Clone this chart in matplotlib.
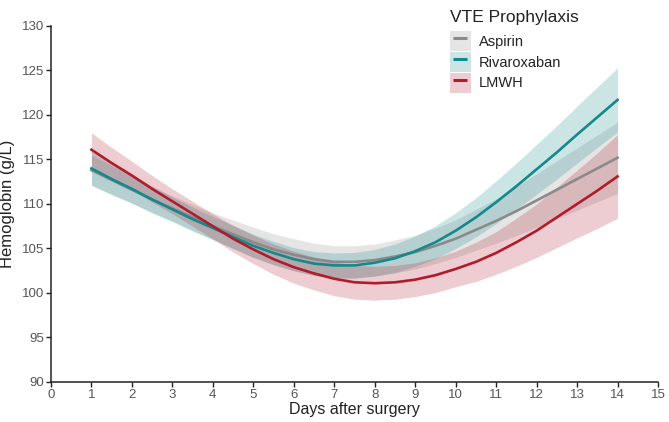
import numpy as np
import matplotlib
matplotlib.use("Agg")
import matplotlib.pyplot as plt
from matplotlib.patches import Patch
from matplotlib.lines import Line2D

plt.rcParams['font.family'] = ['Liberation Sans', 'DejaVu Sans']

# days after surgery (read every half day)
days = [1, 1.5, 2, 2.5, 3, 3.5, 4, 4.5, 5, 5.5, 6, 6.5, 7, 7.5, 8,
        8.5, 9, 9.5, 10, 10.5, 11, 11.5, 12, 12.5, 13, 13.5, 14]

# fitted haemoglobin and half width of the 95% CI band
aspirin = [113.8, 112.7, 111.6, 110.5, 109.5, 108.5, 107.5, 106.6, 105.7, 104.9, 104.3, 103.8, 103.5, 103.5,
           103.7, 104.1, 104.6, 105.3, 106.1, 107.1, 108.1, 109.2, 110.4, 111.6, 112.8, 114.0, 115.2]
aspirin_ci = [1.7, 1.6, 1.5, 1.45, 1.4, 1.45, 1.5, 1.6, 1.7, 1.75, 1.8, 1.8, 1.8, 1.8,
              1.8, 1.85, 1.9, 2.0, 2.1, 2.3, 2.5, 2.75, 3.0, 3.25, 3.5, 3.75, 4.0]

rivaroxaban = [114.0, 112.8, 111.7, 110.5, 109.4, 108.3, 107.3, 106.3, 105.3, 104.5, 103.8, 103.3, 103.1, 103.1,
               103.4, 103.9, 104.7, 105.7, 107.0, 108.5, 110.2, 112.0, 113.9, 115.8, 117.8, 119.75, 121.7]
rivaroxaban_ci = [1.9, 1.75, 1.6, 1.5, 1.4, 1.35, 1.3, 1.3, 1.3, 1.3, 1.3, 1.35, 1.4, 1.45,
                  1.5, 1.6, 1.7, 1.85, 2.0, 2.2, 2.4, 2.6, 2.8, 3.0, 3.2, 3.4, 3.6]

lmwh = [116.1, 114.6, 113.2, 111.7, 110.3, 108.9, 107.5, 106.1, 104.9, 103.8, 102.9, 102.2, 101.6, 101.2,
        101.1, 101.2, 101.5, 102.0, 102.7, 103.5, 104.5, 105.7, 107.0, 108.5, 110.0, 111.5, 113.1]
lmwh_ci = [1.9, 1.75, 1.6, 1.5, 1.4, 1.4, 1.4, 1.5, 1.6, 1.7, 1.8, 1.85, 1.9, 1.9,
           1.9, 1.9, 1.9, 1.95, 2.0, 2.2, 2.4, 2.7, 3.0, 3.4, 3.8, 4.25, 4.7]

groups = ['Aspirin', 'Rivaroxaban', 'LMWH']
line_colors = ['#8a8a8a', '#13898a', '#b01c2e']

fig = plt.figure(figsize=(6.69, 4.22), dpi=100)
ax = fig.add_axes([0.0762, 0.0948, 0.9074, 0.8436])

series = [(aspirin, aspirin_ci), (rivaroxaban, rivaroxaban_ci), (lmwh, lmwh_ci)]

for (mean, ci), c in zip(series, line_colors):
    mean = np.array(mean)
    ci = np.array(ci)
    ax.fill_between(days, mean - ci, mean + ci, color=c, alpha=0.22, linewidth=0)

handles = []
for (mean, ci), c in zip(series, line_colors):
    ax.plot(days, mean, color=c, lw=1.9)
    handles.append((Patch(facecolor=c, alpha=0.22, edgecolor='none'),
                    Line2D([], [], color=c, marker='_', markersize=10,
                           markeredgewidth=2.2, linestyle='none')))

ax.set_xlim(0, 15)
ax.set_ylim(90, 130)
ax.set_xticks(range(0, 16))
ax.set_yticks(range(90, 131, 5))
for s in ['top', 'right']:
    ax.spines[s].set_visible(False)
for s in ['left', 'bottom']:
    ax.spines[s].set_linewidth(1.1)
    ax.spines[s].set_color('#222222')
ax.tick_params(direction='out', length=3.5, width=1.0, color='#222222',
               labelcolor='#555555', labelsize=9.5, pad=1.5)
ax.set_xlabel('Days after surgery', fontsize=11.5, color='#222222', labelpad=0.5)
ax.set_ylabel('Hemoglobin (g/L)', fontsize=12, color='#222222', labelpad=5)

leg = fig.legend(handles, groups, loc='upper left',
                 bbox_to_anchor=(443 / 669, 1 - 3 / 422), borderpad=0,
                 frameon=False, title='VTE Prophylaxis', alignment='left',
                 fontsize=10.5, title_fontsize=12.5, handlelength=1.4,
                 handleheight=1.75, labelspacing=0.05, handletextpad=0.55,
                 numpoints=1)
leg._legend_box.sep = 4
leg.get_title().set_color('#222222')
for t in leg.get_texts():
    t.set_color('#222222')

fig.savefig('out.png', dpi=100)
